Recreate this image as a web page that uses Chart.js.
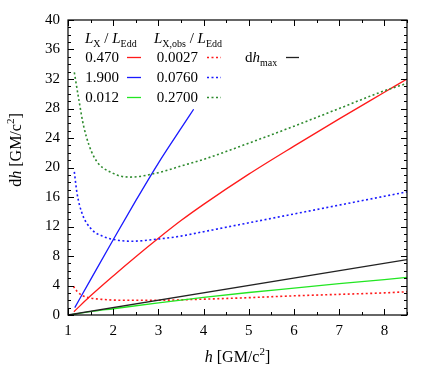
<!DOCTYPE html>
<html>
<head>
<meta charset="utf-8">
<script src="https://cdn.jsdelivr.net/npm/chart.js@4.4.0/dist/chart.umd.min.js"></script>
<style>
  html, body { margin: 0; padding: 0; background: #fff; }
  #wrap { width: 436px; height: 382px; }
</style>
</head>
<body>
<div id="wrap"><canvas id="c" width="436" height="382"></canvas></div>
<script>
// data
var lxValues = ['0.470', '1.900', '0.012'];
var lobsValues = ['0.0027', '0.0760', '0.2700'];

var hRed = [1.13, 1.5, 2, 2.5, 3, 3.5, 4, 5, 6, 7, 8, 8.5];
var dhRed = [0.45, 2.6, 5.3, 7.9, 10.4, 12.8, 15.0, 19.1, 22.9, 26.6, 30.2, 32.0];

var hBlue = [1.15, 1.5, 2, 2.5, 3, 3.5, 3.78];
var dhBlue = [1.0, 4.8, 10.2, 15.5, 20.6, 25.3, 27.9];

var hGreen = [1.08, 1.5, 2, 3, 4, 5, 6, 7, 8, 8.5];
var dhGreen = [0.05, 0.45, 0.85, 1.65, 2.4, 3.05, 3.65, 4.25, 4.8, 5.1];

var hRedObs = [1.12, 1.2, 1.3, 1.5, 1.8, 2.2, 3, 4, 5, 6, 7, 8, 8.5];
var dhRedObs = [3.9, 3.2, 2.7, 2.3, 2.1, 2.0, 2.0, 2.15, 2.35, 2.6, 2.8, 3.0, 3.15];

var hBlueObs = [1.14, 1.2, 1.31, 1.5, 1.8, 2, 2.4, 3, 3.5, 4, 5, 6, 7, 8, 8.5];
var dhBlueObs = [19.4, 16.5, 13.8, 11.75, 10.6, 10.25, 10.0, 10.3, 10.7, 11.3, 12.5, 13.7, 14.9, 16.1, 16.7];

var hGreenObs = [1.14, 1.24, 1.35, 1.57, 2, 2.38, 3, 3.5, 4, 5, 6, 7, 8, 8.5];
var dhGreenObs = [32.9, 29.2, 25.5, 21.5, 19.2, 18.7, 19.3, 20.2, 21.1, 23.3, 25.6, 28.0, 30.4, 31.4];

var hMax = [1, 8.5];
var dhMax = [0, 7.5];

function pts(xs, ys) {
  return xs.map(function (x, i) { return {x: x, y: ys[i]}; });
}

var RED = '#ff1a1a', BLUE = '#1a1aff', GREEN = '#22e622', DKGREEN = '#2e8b2e', BLACK = '#222';
var SERIF = '"Liberation Serif", "DejaVu Serif", serif';

function line(data, color, dotted) {
  return {
    data: data,
    borderColor: color,
    backgroundColor: color,
    borderWidth: dotted ? 1.6 : 1.3,
    borderDash: dotted ? [2, 2.5] : [],
    pointRadius: 0,
    showLine: true,
    fill: false,
    cubicInterpolationMode: 'monotone'
  };
}

// draws a run of text pieces: [text, style('n','i'), size, dy]
function rich(ctx, parts, x, y, align) {
  var w = 0;
  parts.forEach(function (p) {
    ctx.font = (p[1] === 'i' ? 'italic ' : '') + p[2] + 'px ' + SERIF;
    w += ctx.measureText(p[0]).width;
  });
  var cx = align === 'center' ? x - w / 2 : (align === 'right' ? x - w : x);
  ctx.textAlign = 'left';
  ctx.textBaseline = 'alphabetic';
  parts.forEach(function (p) {
    ctx.font = (p[1] === 'i' ? 'italic ' : '') + p[2] + 'px ' + SERIF;
    ctx.fillText(p[0], cx, y + (p[3] || 0));
    cx += ctx.measureText(p[0]).width;
  });
}

var frame = {
  id: 'frame',
  afterDraw: function (chart) {
    var ctx = chart.ctx, a = chart.chartArea;
    var xs = chart.scales.x, ys = chart.scales.y;
    ctx.save();
    ctx.strokeStyle = '#000';
    ctx.lineWidth = 1.2;
    ctx.strokeRect(a.left, a.top, a.right - a.left, a.bottom - a.top);
    ctx.lineWidth = 1;
    ctx.beginPath();
    for (var v = 1; v <= 8.5001; v += 0.5) {
      var px = Math.round(xs.getPixelForValue(v)) + 0.5;
      var len = Number.isInteger(v) ? 6 : 3;
      ctx.moveTo(px, a.bottom); ctx.lineTo(px, a.bottom - len);
      ctx.moveTo(px, a.top); ctx.lineTo(px, a.top + len);
    }
    for (var u = 0; u <= 40; u += 1) {
      var py = Math.round(ys.getPixelForValue(u)) + 0.5;
      var l2 = (u % 4 === 0) ? 6 : 3;
      ctx.moveTo(a.left, py); ctx.lineTo(a.left + l2, py);
      ctx.moveTo(a.right, py); ctx.lineTo(a.right - l2, py);
    }
    ctx.stroke();

    ctx.fillStyle = '#000';
    // axis titles
    rich(ctx, [['h', 'i', 16], [' [GM/c', 'n', 16], ['2', 'n', 11, -7], [']', 'n', 16]],
      (a.left + a.right) / 2, 362, 'center');
    ctx.save();
    ctx.translate(21, 150);
    ctx.rotate(-Math.PI / 2);
    rich(ctx, [['d', 'n', 16], ['h', 'i', 16], [' [GM/c', 'n', 16], ['2', 'n', 11, -7], [']', 'n', 16]],
      0, 0, 'center');
    ctx.restore();

    // legend
    rich(ctx, [['L', 'i', 15], ['X', 'n', 10, 4], [' / ', 'n', 15], ['L', 'i', 15], ['Edd', 'n', 10, 4]], 85, 43, 'left');
    rich(ctx, [['L', 'i', 15], ['X,obs', 'n', 10, 4], [' / ', 'n', 15], ['L', 'i', 15], ['Edd', 'n', 10, 4]], 154, 43, 'left');
    var rows = [62, 82, 102];
    var solid = [RED, BLUE, GREEN], dots = [RED, BLUE, DKGREEN];
    for (var i = 0; i < 3; i++) {
      rich(ctx, [[lxValues[i], 'n', 15]], 119, rows[i], 'right');
      rich(ctx, [[lobsValues[i], 'n', 15]], 198, rows[i], 'right');
      ctx.lineWidth = 1.3;
      ctx.setLineDash([]);
      ctx.strokeStyle = solid[i];
      ctx.beginPath(); ctx.moveTo(127, rows[i] - 4.5); ctx.lineTo(141, rows[i] - 4.5); ctx.stroke();
      ctx.lineWidth = 1.6;
      ctx.setLineDash([2, 2.5]);
      ctx.strokeStyle = dots[i];
      ctx.beginPath(); ctx.moveTo(207, rows[i] - 4.5); ctx.lineTo(221, rows[i] - 4.5); ctx.stroke();
    }
    ctx.setLineDash([]);
    rich(ctx, [['d', 'n', 15], ['h', 'i', 15], ['max', 'n', 10, 4]], 245, rows[0], 'left');
    ctx.strokeStyle = BLACK;
    ctx.lineWidth = 1.3;
    ctx.beginPath(); ctx.moveTo(286, rows[0] - 4.5); ctx.lineTo(299, rows[0] - 4.5); ctx.stroke();
    ctx.restore();
  }
};

new Chart(document.getElementById('c').getContext('2d'), {
  type: 'scatter',
  data: {
    datasets: [
      line(pts(hMax, dhMax), BLACK, false),
      line(pts(hGreen, dhGreen), GREEN, false),
      line(pts(hRedObs, dhRedObs), RED, true),
      line(pts(hBlueObs, dhBlueObs), BLUE, true),
      line(pts(hGreenObs, dhGreenObs), DKGREEN, true),
      line(pts(hRed, dhRed), RED, false),
      line(pts(hBlue, dhBlue), BLUE, false)
    ]
  },
  options: {
    responsive: false,
    animation: false,
    layout: { padding: { left: 0, right: 29, top: 20, bottom: 0 } },
    plugins: { legend: { display: false }, tooltip: { enabled: false } },
    scales: {
      x: {
        type: 'linear', min: 1, max: 8.5,
        grid: { display: false, drawTicks: false },
        border: { display: false },
        ticks: { stepSize: 1, includeBounds: false, padding: 7, color: '#000',
                 font: { family: SERIF, size: 15 } },
        afterFit: function (s) { s.height = 67; }
      },
      y: {
        type: 'linear', min: 0, max: 40,
        grid: { display: false, drawTicks: false },
        border: { display: false },
        ticks: { stepSize: 4, padding: 8, color: '#000',
                 font: { family: SERIF, size: 15 } },
        afterFit: function (s) { s.width = 68; }
      }
    }
  },
  plugins: [frame]
});
</script>
</body>
</html>
